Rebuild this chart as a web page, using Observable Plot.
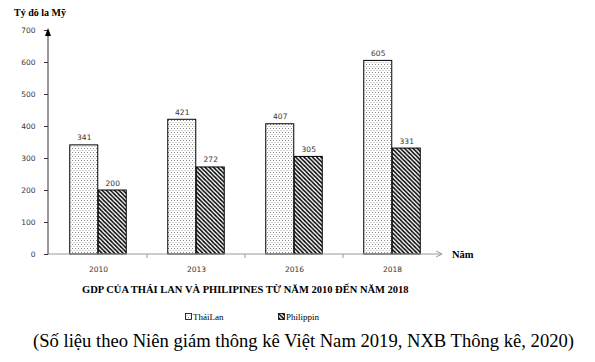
<!DOCTYPE html>
<html>
<head>
<meta charset="utf-8">
<script src="https://cdn.jsdelivr.net/npm/d3@7"></script>
<script src="https://cdn.jsdelivr.net/npm/@observablehq/plot@0.6"></script>
<style>
  html, body { margin: 0; padding: 0; background: #fff; }
  #wrap { position: relative; width: 595px; height: 362px; overflow: hidden; background: #fff; }
  #chart { position: absolute; left: 0; top: 0; }
  .abs { position: absolute; white-space: nowrap; line-height: 1; }
  .serif { font-family: "Liberation Serif", "Times New Roman", serif; color: #000; }
  #ylabel { left: 14px; top: 8px; font-size: 10px; font-weight: bold; }
  #xlabel { left: 452px; top: 250px; font-size: 10.5px; font-weight: bold; }
  #title { left: 82px; top: 285px; font-size: 10.5px; font-weight: bold; }
  #legend { left: 0; top: 313px; width: 595px; height: 12px; font-size: 9px; color: #000; }
  #caption { left: 33px; top: 332px; font-size: 18.6px; }
</style>
</head>
<body>
<div id="wrap">
  <div id="chart"></div>
  <div id="ylabel" class="abs serif">Tỷ đô la Mỹ</div>
  <div id="xlabel" class="abs serif">Năm</div>
  <div id="title" class="abs serif">GDP CỦA THÁI LAN VÀ PHILIPINES TỪ NĂM 2010 ĐẾN NĂM 2018</div>
  <div id="legend" class="abs serif"></div>
  <div id="caption" class="abs serif">(Số liệu theo Niên giám thông kê Việt Nam 2019, NXB Thông kê, 2020)</div>
</div>
<script>
// ---- data ----
const years = ["2010", "2013", "2016", "2018"];
const thaiValues = [341, 421, 407, 605];
const philValues = [200, 272, 305, 331];
const yTicks = [0, 100, 200, 300, 400, 500, 600, 700];
const seriesNames = ["TháiLan", "Philippin"];

const thaiData = years.map((y, i) => ({year: y, value: thaiValues[i]}));
const philData = years.map((y, i) => ({year: y, value: philValues[i]}));

const numFont = "DejaVu Sans, Verdana, sans-serif";

// pattern definitions + custom axes
function patternDefs() {
  const defs = d3.create("svg:defs");
  const dots = defs.append("pattern").attr("id", "dots").attr("patternUnits", "userSpaceOnUse")
    .attr("width", 3).attr("height", 4);
  dots.append("rect").attr("width", 3).attr("height", 4).attr("fill", "#fff");
  dots.append("rect").attr("x", 0).attr("y", 0).attr("width", 1).attr("height", 1).attr("fill", "#888");
  dots.append("rect").attr("x", 1.5).attr("y", 2).attr("width", 1).attr("height", 1).attr("fill", "#aaa");
  const hatch = defs.append("pattern").attr("id", "hatch").attr("patternUnits", "userSpaceOnUse")
    .attr("width", 4.2).attr("height", 4.2);
  hatch.append("rect").attr("width", 4.2).attr("height", 4.2).attr("fill", "#fff");
  hatch.append("path").attr("d", "M-1,-1L5.2,5.2M3.2,-1L5.2,1M-1,3.2L1,5.2")
    .attr("stroke", "#000").attr("stroke-width", 1.5);
  return defs.node();
}

function axesMark(index, scales, values, dims) {
  const g = d3.create("svg:g");
  const x0 = dims.marginLeft;
  const x1 = dims.width - dims.marginRight;
  const yb = scales.y(0);
  const yt = scales.y(700);
  // x axis line (gray) with open arrow
  g.append("line").attr("x1", x0).attr("x2", x1).attr("y1", yb).attr("y2", yb)
    .attr("stroke", "#999").attr("stroke-width", 1);
  g.append("polyline").attr("points", `${x1 - 6},${yb - 3} ${x1},${yb} ${x1 - 6},${yb + 3}`)
    .attr("fill", "none").attr("stroke", "#999").attr("stroke-width", 1);
  // x ticks at band boundaries
  years.slice(1).forEach(yr => {
    const xx = scales.x(yr);
    g.append("line").attr("x1", xx).attr("x2", xx).attr("y1", yb).attr("y2", yb + 4)
      .attr("stroke", "#999");
  });
  // y axis line with filled arrow
  g.append("line").attr("x1", x0).attr("x2", x0).attr("y1", yb).attr("y2", yt + 4)
    .attr("stroke", "#333").attr("stroke-width", 1);
  g.append("path").attr("d", `M${x0},${yt - 2}L${x0 - 3},${yt + 6}L${x0 + 3},${yt + 6}Z`)
    .attr("fill", "#000");
  return g.node();
}

const chart = Plot.plot({
  width: 595,
  height: 280,
  marginLeft: 48,
  marginRight: 153,
  marginTop: 30,
  marginBottom: 26,
  style: {background: "#fff", fontFamily: numFont, fontSize: "7.5px", color: "#333"},
  x: {type: "band", domain: years, padding: 0, label: null, tickSize: 0, tickPadding: 12},
  y: {domain: [0, 700], ticks: yTicks, label: null, tickSize: 4, tickPadding: 9},
  marks: [
    patternDefs,
    Plot.barY(thaiData, {x: "year", y: "value", fill: "url(#dots)", stroke: "#000", strokeWidth: 1,
      insetLeft: 20.75, insetRight: 49.25}),
    Plot.barY(philData, {x: "year", y: "value", fill: "url(#hatch)", stroke: "#000", strokeWidth: 1,
      insetLeft: 49.25, insetRight: 20.75}),
    Plot.text(thaiData, {x: "year", y: "value", text: d => String(d.value), dx: -14.25, dy: -5,
      lineAnchor: "bottom", fill: "#333", fontSize: 7.5, fontFamily: numFont}),
    Plot.text(philData, {x: "year", y: "value", text: d => String(d.value), dx: 14.25, dy: -5,
      lineAnchor: "bottom", fill: "#333", fontSize: 7.5, fontFamily: numFont}),
    axesMark
  ]
});
document.getElementById("chart").appendChild(chart);

// ---- legend ----
const legend = d3.select("#legend");
const legendItems = [
  {name: seriesNames[0], fill: "url(#dots)", left: 185},
  {name: seriesNames[1], fill: "url(#hatch)", left: 278}
];
legendItems.forEach(item => {
  const span = legend.append("span").attr("class", "abs").style("left", item.left + "px").style("top", "0px")
    .style("color", "#000");
  const sw = span.append("svg").attr("width", 7).attr("height", 7)
    .style("vertical-align", "baseline").style("margin-right", "1px");
  sw.append("rect").attr("x", 0.5).attr("y", 0.5).attr("width", 6).attr("height", 6)
    .attr("fill", item.fill).attr("stroke", "#000").attr("stroke-width", 0.8);
  span.append("span").style("color", "#000").text(item.name);
});
</script>
</body>
</html>
